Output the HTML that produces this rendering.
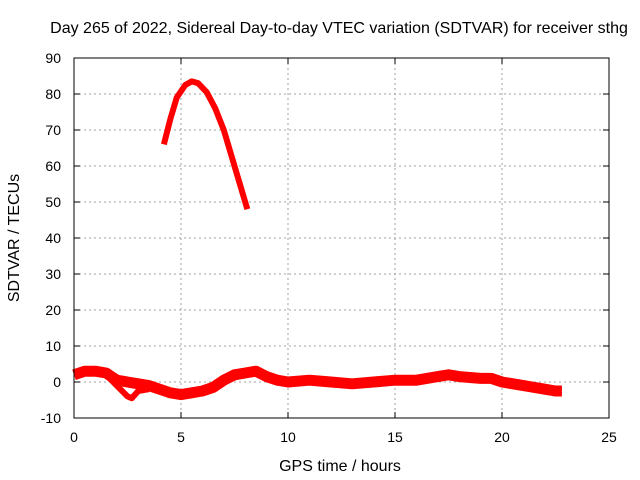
<!DOCTYPE html>
<html><head><meta charset="utf-8"><style>
body{margin:0;background:#fff}
svg{display:block;font-family:"Liberation Sans",sans-serif}
</style></head><body>
<svg id="c" width="640" height="480">
<rect width="640" height="480" fill="#fff"/>
<text x="339" y="33" font-size="16" text-anchor="middle">Day 265 of 2022, Sidereal Day-to-day VTEC variation (SDTVAR) for receiver sthg</text>
<text x="340" y="471" font-size="16" text-anchor="middle">GPS time / hours</text>
<text transform="translate(19,238) rotate(-90)" font-size="16" text-anchor="middle">SDTVAR / TECUs</text>
<g id="grid"></g><g id="series"></g>
<rect x="74" y="58" width="535" height="360" fill="none" stroke="#000" stroke-width="1"/>
</svg>
<script>
const xTicks=[0,5,10,15,20,25];
const yTicks=[-10,0,10,20,30,40,50,60,70,80,90];
const mainHours=[0,0.5,1,1.5,2,2.5,3,3.5,4,4.5,5,5.5,6,6.5,7,7.5,8,8.5,9,9.5,10,11,12,13,14,15,16,17,17.5,18,19,19.5,20,21,22,22.5,22.8];
const mainValues=[2,3,3,2.5,0.5,0,-0.5,-1,-2,-3,-3.5,-3,-2.5,-1.5,0.5,2,2.5,3,1.5,0.5,0,0.5,0,-0.5,0,0.5,0.5,1.5,2,1.5,1,1,0,-1,-2,-2.5,-2.5];
const branchHours=[1.5,2,2.5,2.7,3,3.5];
const branchValues=[2,-1,-4,-4.5,-2.5,-2];
const arcHours=[4.2,4.5,4.8,5.2,5.5,5.8,6.2,6.6,7,7.4,7.8,8.1];
const arcValues=[66,73,79,82.5,83.5,83,80.5,76,70,62,54,48];
const NS='http://www.w3.org/2000/svg';
const X=h=>74+h*535/25, Y=v=>418-(v+10)*3.6;
const g=document.getElementById('grid'), s=document.getElementById('series');
function el(t,a,p){const e=document.createElementNS(NS,t);for(const k in a)e.setAttribute(k,a[k]);p.appendChild(e);return e;}
xTicks.forEach(t=>{
  const x=X(t);
  if(t>0&&t<25){const l=el('line',{x1:x,x2:x,y1:58,y2:418,stroke:'#a0a0a0','stroke-dasharray':'2,3'},g);
  
  }
  el('line',{x1:x,x2:x,y1:418,y2:412,stroke:'#000'},g);el('line',{x1:x,x2:x,y1:58,y2:64,stroke:'#000'},g);
  const tx=el('text',{x:x,y:442,'font-size':14,'text-anchor':'middle'},g);tx.textContent=t;
  
  
});
yTicks.forEach(t=>{
  const y=Y(t);
  if(t>-10&&t<90){const l=el('line',{x1:74,x2:609,y1:y,y2:y,stroke:'#a0a0a0','stroke-dasharray':'2,3'},g);
  
  }
  el('line',{x1:74,x2:80,y1:y,y2:y,stroke:'#000'},g);el('line',{x1:609,x2:603,y1:y,y2:y,stroke:'#000'},g);
  const tx=el('text',{x:61,y:y+5,'font-size':14,'text-anchor':'end'},g);tx.textContent=t;
  
  
});
function line(hs,vs,w,name){
  const p=el('polyline',{points:hs.map((h,i)=>X(h)+','+Y(vs[i])).join(' '),fill:'none',stroke:'#f00','stroke-width':w,'stroke-linejoin':'round','stroke-linecap':'butt'},s);
  
  
}
line(mainHours,mainValues,11,'sdtvar-series-main');
line(branchHours,branchValues,6,'sdtvar-series-branch');
line(arcHours,arcValues,6,'sdtvar-series-peak');
</script>
</body></html>
